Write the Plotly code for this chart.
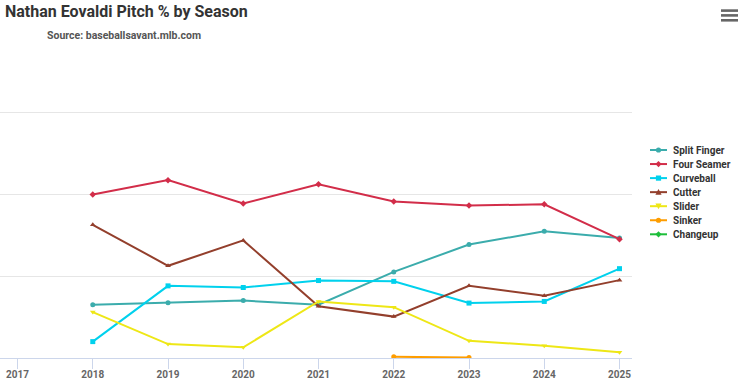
import plotly.graph_objects as go

years = [2018, 2019, 2020, 2021, 2022, 2023, 2024, 2025]
split_finger = [13.0, 13.5, 14.0, 13.0, 21.0, 27.7, 30.9, 29.3]
four_seamer = [39.9, 43.4, 37.7, 42.4, 38.2, 37.2, 37.5, 29.0]
curveball = [4.0, 17.6, 17.2, 18.9, 18.7, 13.4, 13.8, 21.8]
cutter = [32.5, 22.5, 28.7, 12.6, 10.1, 17.6, 15.2, 19.0]
slider = [11.2, 3.4, 2.6, 13.8, 12.4, 4.2, 3.0, 1.4]
sinker_years = [2022, 2023]
sinker = [0.3, 0.1]
changeup_years = [2018]
changeup = [None]
tick_years = [2017, 2018, 2019, 2020, 2021, 2022, 2023, 2024, 2025]

series = [
    ("Split Finger", years, split_finger, "#3BACAC", "circle"),
    ("Four Seamer", years, four_seamer, "#D22D49", "diamond"),
    ("Curveball", years, curveball, "#00D1ED", "square"),
    ("Cutter", years, cutter, "#933F2C", "triangle-up"),
    ("Slider", years, slider, "#EEE716", "triangle-down"),
    ("Sinker", sinker_years, sinker, "#FE9D00", "circle"),
    ("Changeup", changeup_years, changeup, "#1DBE3A", "diamond"),
]

FONT = "Roboto, Arial, sans-serif"
W, H = 742, 383
ML, MR, MT, MB = 0, 110, 108, 25
PW, PH = W - ML - MR, H - MT - MB


def px(x):
    return (x - ML) / PW


def py(y):
    return (H - MB - y) / PH


fig = go.Figure()
for name, xs, ys, color, sym in series:
    fig.add_trace(go.Scatter(
        x=xs, y=ys, name=name, mode="lines+markers",
        line=dict(color=color, width=2),
        marker=dict(color=color, size=5, symbol=sym),
        showlegend=False,
    ))

fig.update_layout(
    width=W, height=H,
    margin=dict(l=ML, r=MR, t=MT, b=MB, autoexpand=False),
    paper_bgcolor="white", plot_bgcolor="white",
    title=dict(text="<b>Nathan Eovaldi Pitch % by Season</b>",
               x=5 / W, xanchor="left", y=1 - 6 / H, yanchor="top",
               font=dict(family=FONT, size=16, color="#333333")),
    xaxis=dict(range=[2016.767, 2025.166], tickvals=tick_years,
               ticktext=[str(t) for t in tick_years],
               showgrid=False, zeroline=False, showline=True,
               linecolor="#ccd6eb", linewidth=1, automargin=False,
               ticks="outside", ticklen=10, tickcolor="#ccd6eb",
               ticklabelstandoff=-3,
               tickfont=dict(family=FONT, size=10, color="#666666", weight="bold")),
    yaxis=dict(range=[0, 61], tickvals=[0, 20, 40, 60], showticklabels=False,
               showgrid=True, gridcolor="#e6e6e6", zeroline=False, showline=False,
               automargin=False),
    showlegend=False,
)

fig.add_annotation(text="<b>Source: baseballsavant.mlb.com</b>",
                   xref="paper", yref="paper", x=px(45), xanchor="left",
                   y=py(35.5), yanchor="middle", showarrow=False,
                   font=dict(family=FONT, size=10.5, color="#555555"))

# legend (drawn manually to match compact item spacing)
LEG_X0, LEG_X1, LEG_TX, LEG_Y0, LEG_DY = 650, 667, 671, 150, 14.05
for i, (name, xs, ys, color, sym) in enumerate(series):
    yc = LEG_Y0 + LEG_DY * i
    fig.add_shape(type="line", xref="paper", yref="paper",
                  x0=px(LEG_X0), x1=px(LEG_X1), y0=py(yc), y1=py(yc),
                  line=dict(color=color, width=2))
    mx, r = (LEG_X0 + LEG_X1) / 2, 2.6
    if sym == "circle":
        fig.add_shape(type="circle", xref="paper", yref="paper",
                      x0=px(mx - r), x1=px(mx + r), y0=py(yc + r), y1=py(yc - r),
                      fillcolor=color, line=dict(width=0))
    elif sym == "square":
        fig.add_shape(type="rect", xref="paper", yref="paper",
                      x0=px(mx - r), x1=px(mx + r), y0=py(yc + r), y1=py(yc - r),
                      fillcolor=color, line=dict(width=0))
    else:
        if sym == "diamond":
            pts = [(mx, yc - r - 0.5), (mx + r + 0.5, yc), (mx, yc + r + 0.5), (mx - r - 0.5, yc)]
        elif sym == "triangle-up":
            pts = [(mx, yc - r - 0.5), (mx + r + 0.5, yc + r), (mx - r - 0.5, yc + r)]
        else:
            pts = [(mx, yc + r + 0.5), (mx + r + 0.5, yc - r), (mx - r - 0.5, yc - r)]
        path = "M " + " L ".join(f"{px(a):.5f},{py(b):.5f}" for a, b in pts) + " Z"
        fig.add_shape(type="path", xref="paper", yref="paper", path=path,
                      fillcolor=color, line=dict(width=0))
    fig.add_annotation(text=f"<b>{name}</b>", xref="paper", yref="paper",
                       x=px(LEG_TX), xanchor="left", y=py(yc), yanchor="middle",
                       showarrow=False,
                       font=dict(family=FONT, size=10, color="#333333"))

# hamburger menu icon
for yc in (10.6, 15.4, 20.3):
    fig.add_shape(type="rect", xref="paper", yref="paper",
                  x0=px(721), x1=px(738),
                  y0=py(yc + 1.3), y1=py(yc - 1.3),
                  fillcolor="#666666", line=dict(width=0))

fig.write_html("out.html", config={"displayModeBar": False},
               post_script="document.body.style.margin='0';")
